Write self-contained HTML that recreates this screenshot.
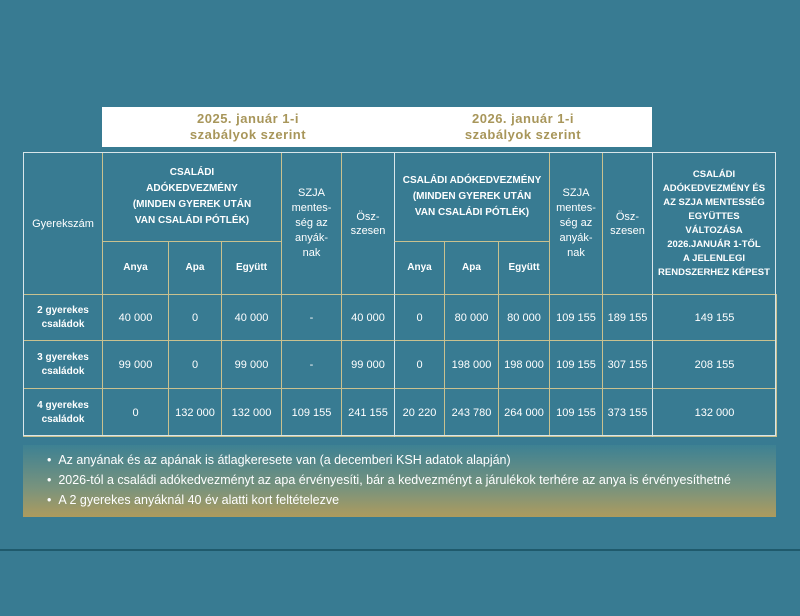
<!DOCTYPE html>
<html><head><meta charset="utf-8"><style>
body{margin:0;width:800px;height:616px;background:#387b92;font-family:"Liberation Sans",sans-serif;position:relative;overflow:hidden;color:#fff}
.c{position:absolute;display:flex;align-items:center;justify-content:center;text-align:center;box-sizing:border-box;border:1px solid #c9c18f;font-size:11px;line-height:14px}
.b{font-weight:bold;font-size:10px;line-height:16px}
.hd{position:absolute;background:#fff;color:#a8965a;font-weight:bold;font-size:13px;line-height:16px;text-align:center;display:flex;align-items:center;justify-content:center;letter-spacing:.5px}
</style></head><body>
<div class="hd" style="left:102px;top:107px;width:292px;height:40px">2025. január 1-i<br>szabályok szerint</div>
<div class="hd" style="left:394px;top:107px;width:258px;height:40px">2026. január 1-i<br>szabályok szerint</div>

<div class="c" style="left:23px;top:152px;width:80px;height:143px">Gyerekszám</div>
<div class="c b" style="left:102px;top:152px;width:180px;height:90px">CSALÁDI<br>ADÓKEDVEZMÉNY<br>(MINDEN GYEREK UTÁN<br>VAN CSALÁDI PÓTLÉK)</div>
<div class="c b" style="left:102px;top:241px;width:67px;height:54px">Anya</div>
<div class="c b" style="left:168px;top:241px;width:54px;height:54px">Apa</div>
<div class="c b" style="left:221px;top:241px;width:61px;height:54px">Együtt</div>
<div class="c" style="left:281px;top:152px;width:61px;height:143px;line-height:15px">SZJA<br>mentes-<br>ség az<br>anyák-<br>nak</div>
<div class="c" style="left:341px;top:152px;width:54px;height:143px">Ösz-<br>szesen</div>
<div class="c b" style="left:394px;top:152px;width:156px;height:90px;border-left:1.5px solid #d9e6ea">CSALÁDI ADÓKEDVEZMÉNY<br>(MINDEN GYEREK UTÁN<br>VAN CSALÁDI PÓTLÉK)</div>
<div class="c b" style="left:394px;top:241px;width:51px;height:54px;border-left:1.5px solid #d9e6ea">Anya</div>
<div class="c b" style="left:444px;top:241px;width:55px;height:54px">Apa</div>
<div class="c b" style="left:498px;top:241px;width:52px;height:54px">Együtt</div>
<div class="c" style="left:549px;top:152px;width:54px;height:143px;line-height:15px">SZJA<br>mentes-<br>ség az<br>anyák-<br>nak</div>
<div class="c" style="left:602px;top:152px;width:51px;height:143px">Ösz-<br>szesen</div>
<div class="c b" style="left:652px;top:152px;width:124px;height:143px;line-height:14px;font-size:9.5px;border-left:1.5px solid #d9e6ea">CSALÁDI<br>ADÓKEDVEZMÉNY ÉS<br>AZ SZJA MENTESSÉG<br>EGYÜTTES<br>VÁLTOZÁSA<br>2026.JANUÁR 1-TŐL<br>A JELENLEGI<br>RENDSZERHEZ KÉPEST</div>

<div id="rows"></div>
<div style="position:absolute;z-index:5;pointer-events:none;left:23px;top:152px;width:753px;height:284px;box-sizing:border-box;border:1.5px solid #d9e6ea"></div>
<script>
const xs=[23,102,168,221,281,341,394,444,498,549,602,652,776];
const ys=[294,340,388,436];
const labels=["2 gyerekes<br>családok","3 gyerekes<br>családok","4 gyerekes<br>családok"];
const rowsData=[
["40 000","0","40 000","-","40 000","0","80 000","80 000","109 155","189 155","149 155"],
["99 000","0","99 000","-","99 000","0","198 000","198 000","109 155","307 155","208 155"],
["0","132 000","132 000","109 155","241 155","20 220","243 780","264 000","109 155","373 155","132 000"]];
const host=document.getElementById('rows');
for(let r=0;r<3;r++){
 const cells=[labels[r]].concat(rowsData[r]);
 for(let c=0;c<12;c++){
  const d=document.createElement('div');
  
  
  d.className='c'+(c==0?' b':'');
  d.style.left=xs[c]+'px';d.style.top=ys[r]+'px';
  d.style.width=(xs[c+1]-xs[c]+1)+'px';d.style.height=(ys[r+1]-ys[r]+1)+'px';
  if(c==0)d.style.lineHeight='14px';
  if(c==6||c==11)d.style.borderLeft='1.5px solid #d9e6ea';
  d.innerHTML=cells[c];
  host.appendChild(d);
 }
}
</script>
<div style="position:absolute;left:23px;top:445px;width:753px;height:72px;background:linear-gradient(#3d8193,#79937d 60%,#ad9b5e);font-size:12.5px;line-height:20px;padding:5px 0 0 24px;box-sizing:border-box">
<div>• &nbsp;Az anyának és az apának is átlagkeresete van (a decemberi KSH adatok alapján)</div>
<div>• &nbsp;2026-tól a családi adókedvezményt az apa érvényesíti, bár a kedvezményt a járulékok terhére az anya is érvényesíthetné</div>
<div>• &nbsp;A 2 gyerekes anyáknál 40 év alatti kort feltételezve</div>
</div>
<div style="position:absolute;left:0;top:549px;width:800px;height:2px;background:#1f5a6c"></div>
</body></html>
